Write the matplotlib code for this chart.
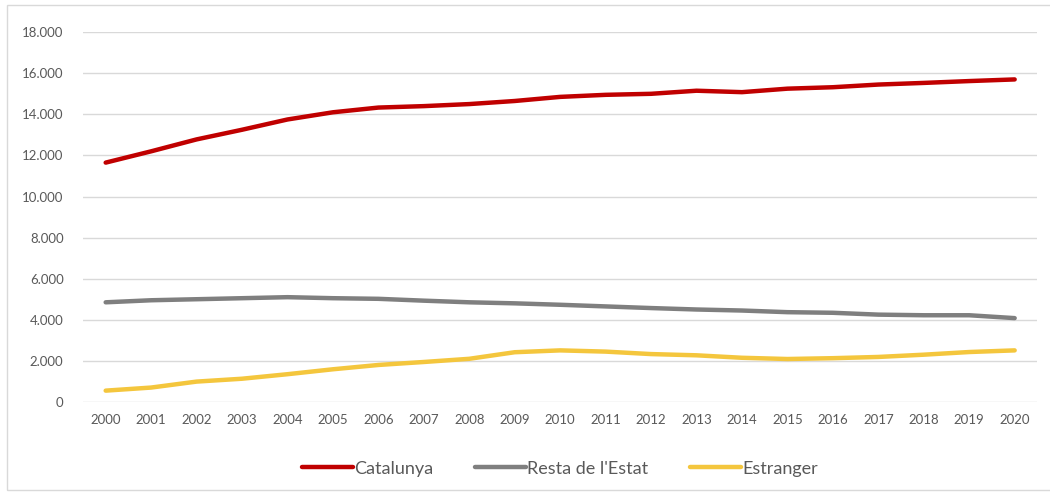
import matplotlib
matplotlib.use("Agg")
import matplotlib.pyplot as plt
from matplotlib.ticker import FuncFormatter
from matplotlib.patches import Rectangle

# Data
years = [str(y) for y in range(2000, 2021)]
catalunya = [11650, 12200, 12780, 13250, 13750, 14100, 14330, 14400, 14500, 14650,
             14850, 14950, 15000, 15150, 15080, 15250, 15320, 15450, 15530, 15620, 15700]
resta_estat = [4850, 4950, 5000, 5050, 5100, 5050, 5020, 4930, 4850, 4800,
               4730, 4650, 4570, 4500, 4450, 4370, 4340, 4250, 4220, 4220, 4080]
estranger = [550, 700, 990, 1130, 1350, 1590, 1800, 1945, 2100, 2420,
             2510, 2450, 2330, 2270, 2150, 2090, 2130, 2190, 2300, 2430, 2510]

plt.rcParams['font.family'] = ['Lato', 'DejaVu Sans']
text_color = "#595959"

fig = plt.figure(figsize=(10.5, 4.95), dpi=100)
ax = fig.add_axes([0.079, 0.188, 0.909, 0.747])

x = range(len(years))
ax.plot(x, catalunya, color="#C00000", lw=3.2, solid_capstyle="round", label="Catalunya")
ax.plot(x, resta_estat, color="#7F7F7F", lw=3.2, solid_capstyle="round", label="Resta de l'Estat")
ax.plot(x, estranger, color="#F4C63D", lw=3.2, solid_capstyle="round", label="Estranger")

ax.set_xlim(-0.5, len(years) - 0.5)
ax.set_ylim(0, 18000)
ax.set_yticks(range(0, 18001, 2000))
ax.yaxis.set_major_formatter(FuncFormatter(lambda v, p: f"{int(v):,}".replace(",", ".")))
ax.set_xticks(list(x))
ax.set_xticklabels(years)
ax.grid(axis="y", color="#D9D9D9", lw=1)
ax.set_axisbelow(True)
for s in ax.spines.values():
    s.set_visible(False)
ax.tick_params(length=0, colors=text_color, labelsize=9.5)
ax.tick_params(axis="x", pad=9)
ax.tick_params(axis="y", pad=14)

leg = ax.legend(loc="upper center", bbox_to_anchor=(0.5, -0.115), ncol=3, frameon=False,
                fontsize=13, handlelength=2.8, handletextpad=0.1, columnspacing=2.3)
for t in leg.get_texts():
    t.set_color(text_color)

# light frame around the chart, as in the source
fig.patches.append(Rectangle((0.007, 0.01), 1.5, 0.98, transform=fig.transFigure,
                             fill=False, edgecolor="#D9D9D9", lw=1))

plt.savefig("out.png", dpi=100)
